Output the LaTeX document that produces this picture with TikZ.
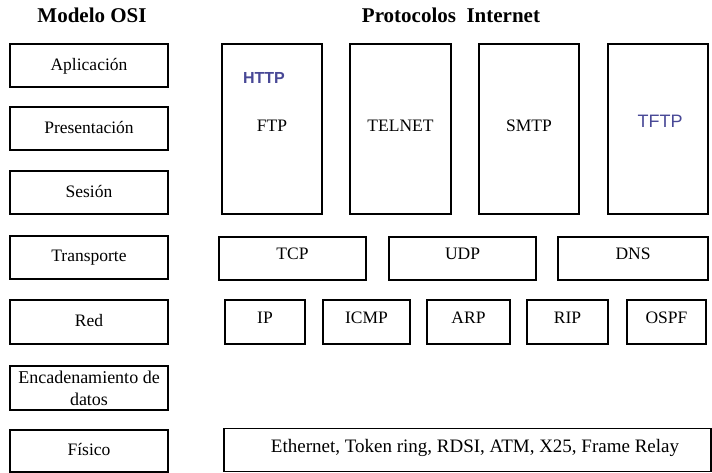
\documentclass[tikz,border=0pt]{standalone}
\usepackage{fontspec}
\setmainfont{Liberation Serif}
\newfontfamily\httpfont{Liberation Sans}
\definecolor{protoblue}{RGB}{72,72,150}
\begin{document}
\begin{tikzpicture}[x=1pt,y=-1pt,
  box/.style={draw=black, line width=1.1pt, inner sep=0pt, text depth=3pt, font=\fontsize{17.5}{19}\selectfont},
  title/.style={font=\bfseries\fontsize{21}{23}\selectfont, inner sep=0pt},
  plain/.style={inner sep=0pt, font=\fontsize{17.5}{19}\selectfont},
  blue/.style={inner sep=0pt, text=protoblue, font=\httpfont\fontsize{16}{18}\selectfont}]
\useasboundingbox (0,0) rectangle (712,472);
% titles
\node[title] (tosi) at (92,15) {Modelo OSI};
\node[title] (tinet) at (451,15) {Protocolos\ \ Internet};
% OSI column
\node[box, minimum width=158, minimum height=43] (apl) at (89,65.5) {Aplicación};
\node[box, minimum width=158, minimum height=43] (pres) at (89,128.5) {Presentación};
\node[box, minimum width=158, minimum height=43] (ses) at (89,192.5) {Sesión};
\node[box, minimum width=158, minimum height=43] (trans) at (89,257.5) {Transporte};
\node[box, minimum width=158, minimum height=44] (red) at (89,322) {Red};
\node[box, minimum width=158, minimum height=44, align=center, text depth=0pt, font=\fontsize{18}{21.5}\selectfont] (enc) at (89,388) {Encadenamiento de\\datos};
\node[box, minimum width=158, minimum height=42] (fis) at (89,451) {Físico};
% application protocols
\node[box, minimum width=100, minimum height=170] (ftp) at (272,129) {};
\node[plain] (ftpt) at (272,126) {FTP};
\node[blue, font=\httpfont\bfseries\fontsize{16}{18}\selectfont] (http) at (264,78) {HTTP};
\node[box, minimum width=101, minimum height=170] (telnet) at (400.5,129) {};
\node[plain] (telnett) at (400.5,126) {TELNET};
\node[box, minimum width=100, minimum height=170] (smtp) at (529,129) {};
\node[plain] (smtpt) at (529,126) {SMTP};
\node[box, minimum width=100, minimum height=170] (tftp) at (658,129) {};
\node[blue, font=\httpfont\fontsize{18}{20}\selectfont] (tftpt) at (660,121) {TFTP};
% transport
\node[box, minimum width=147, minimum height=43] (tcp) at (292.5,258.5) {};
\node[plain] (tcpt) at (292.5,254) {TCP};
\node[box, minimum width=147, minimum height=43] (udp) at (462.5,258.5) {};
\node[plain] (udpt) at (462.5,254) {UDP};
\node[box, minimum width=150, minimum height=43] (dns) at (633,258.5) {};
\node[plain] (dnst) at (633,254) {DNS};
% network
\node[box, minimum width=80, minimum height=44] (ip) at (265,322) {};
\node[plain] (ipt) at (265,318) {IP};
\node[box, minimum width=87, minimum height=44] (icmp) at (366.5,322) {};
\node[plain] (icmpt) at (366.5,318) {ICMP};
\node[box, minimum width=83, minimum height=44] (arp) at (468.5,322) {};
\node[plain] (arpt) at (468.5,318) {ARP};
\node[box, minimum width=81, minimum height=44] (rip) at (567.5,322) {};
\node[plain] (ript) at (567.5,318) {RIP};
\node[box, minimum width=79, minimum height=44] (ospf) at (666.5,322) {};
\node[plain] (ospft) at (666.5,318) {OSPF};
% physical
\node[box, minimum width=487, minimum height=43] (phys) at (467.5,450) {};
\node[plain, font=\fontsize{19}{21}\selectfont] (physt) at (475,448) {Ethernet, Token ring, RDSI, ATM, X25, Frame Relay};
\end{tikzpicture}
\end{document}
